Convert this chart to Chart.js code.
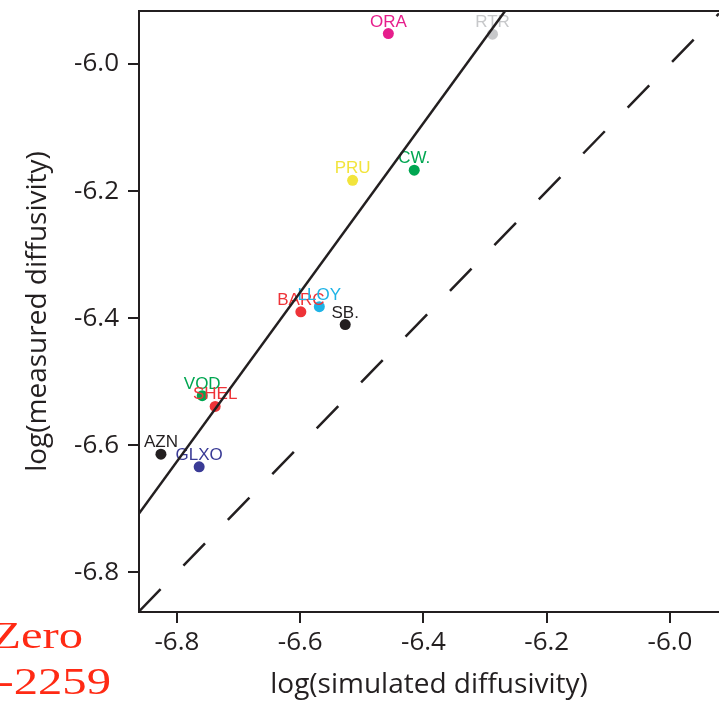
<!DOCTYPE html>
<html>
<head>
<meta charset="utf-8">
<script src="https://cdn.jsdelivr.net/npm/chart.js@4/dist/chart.umd.min.js"></script>
<style>
  html, body { margin: 0; padding: 0; background: #ffffff; overflow: hidden; }
  #wrap { position: relative; width: 719px; height: 702px; }
</style>
</head>
<body>
<div id="wrap"><canvas id="c" width="719" height="702"></canvas></div>
<script>
// ---- data ----
const companies = ['ORA', 'RTR', 'PRU', 'CW.', 'BARC', 'LLOY', 'SB.', 'VOD', 'SHEL', 'AZN', 'GLXO'];
const simulated = [-6.457, -6.288, -6.515, -6.415, -6.599, -6.569, -6.527, -6.759, -6.738, -6.826, -6.764];
const measured  = [-5.952, -5.953, -6.183, -6.167, -6.390, -6.382, -6.410, -6.522, -6.539, -6.614, -6.634];
const colors    = ['#e61e8c', '#c7c8ca', '#f2e43c', '#00a651', '#ee3338', '#1fb3e6', '#231f20', '#00a651', '#ee3338', '#231f20', '#3a3b96'];

const fitX = [-6.8616, -6.2676];
const fitY = [-6.7076, -5.9165];
const diagX = [-6.8616, -5.9205];
const diagY = [-6.8616, -5.9205];

const xTicks = [-6.8, -6.6, -6.4, -6.2, -6.0];
const yTicks = [-6.8, -6.6, -6.4, -6.2, -6.0];
const xRange = [-6.8616, -5.9205];
const yRange = [-6.8625, -5.9165];

const xTitle = 'log(simulated diffusivity)';
const yTitle = 'log(measured diffusivity)';
const sideTexts = ['Zero', '-2259'];

// ---- chart ----
const INK = '#231f20';
const pts = companies.map((c, i) => ({ x: simulated[i], y: measured[i] }));

const labelPlugin = {
  id: 'pointLabels',
  afterDatasetDraw(chart, args) {
    if (args.index !== 0) return;
    const ctx = chart.ctx;
    const meta = chart.getDatasetMeta(0);
    ctx.save();
    ctx.font = '17px "Liberation Sans", Arial, sans-serif';
    ctx.textAlign = 'center';
    ctx.textBaseline = 'alphabetic';
    meta.data.forEach((el, i) => {
      ctx.fillStyle = colors[i];
      ctx.fillText(companies[i], el.x, el.y - 7);
    });
    ctx.restore();
  }
};

const framePlugin = {
  id: 'frameTop',
  afterDraw(chart) {
    const ctx = chart.ctx, a = chart.chartArea;
    ctx.save();
    ctx.strokeStyle = INK;
    ctx.lineWidth = 2;
    ctx.beginPath();
    ctx.moveTo(a.left - 1, a.top);
    ctx.lineTo(a.right, a.top);
    ctx.stroke();
    ctx.restore();
    // side text fragments (partly outside the canvas in the reference)
    [[sideTexts[0], 83, 648], [sideTexts[1], 111, 694]].forEach(([t, x, y]) => {
      ctx.save();
      ctx.fillStyle = '#ff2a14';
      ctx.font = '38px "Liberation Serif", "Times New Roman", serif';
      ctx.textAlign = 'right';
      ctx.textBaseline = 'alphabetic';
      ctx.translate(x, y);
      ctx.scale(1.28, 1);
      ctx.fillText(t, 0, 0);
      ctx.restore();
    });
  }
};

const tickFont = { family: '"Open Sans", "Noto Sans", sans-serif', size: 26 };
const titleFont = { family: '"Open Sans", "Noto Sans", sans-serif', size: 28 };

new Chart(document.getElementById('c'), {
  data: {
    datasets: [
      {
        type: 'scatter',
        data: pts,
        pointRadius: 5.5,
        pointHoverRadius: 5.5,
        pointBorderWidth: 0,
        pointBackgroundColor: colors,
        pointBorderColor: colors,
        order: 2
      },
      {
        type: 'line',
        data: fitX.map((x, i) => ({ x, y: fitY[i] })),
        borderColor: INK,
        borderWidth: 2.5,
        pointRadius: 0,
        fill: false,
        order: 1
      },
      {
        type: 'line',
        data: diagX.map((x, i) => ({ x, y: diagY[i] })),
        borderColor: INK,
        borderWidth: 2.5,
        borderDash: [31, 32.8],
        pointRadius: 0,
        fill: false,
        order: 1
      }
    ]
  },
  options: {
    responsive: false,
    animation: false,
    devicePixelRatio: 1,
    layout: { autoPadding: false, padding: { top: 11, right: 0, bottom: 0, left: 0 } },
    plugins: { legend: { display: false }, tooltip: { enabled: false } },
    scales: {
      x: {
        type: 'linear',
        min: xRange[0],
        max: xRange[1],
        afterFit(s) { s.height = 90; s.paddingLeft = 0; s.paddingRight = 0; },
        afterBuildTicks(s) { s.ticks = xTicks.map(v => ({ value: v })); },
        grid: { display: true, drawOnChartArea: false, drawTicks: true, tickLength: 11, color: INK, lineWidth: 2 },
        border: { display: true, color: INK, width: 2 },
        ticks: { color: INK, font: tickFont, padding: 4, maxRotation: 0, autoSkip: false,
                 callback: v => v.toFixed(1) },
        title: { display: true, text: xTitle, color: INK, font: titleFont, padding: { top: 0, bottom: 0 } }
      },
      y: {
        type: 'linear',
        min: yRange[0],
        max: yRange[1],
        afterFit(s) { s.width = 139; s.paddingTop = 0; s.paddingBottom = 0; },
        afterBuildTicks(s) { s.ticks = yTicks.map(v => ({ value: v })); },
        grid: { display: true, drawOnChartArea: false, drawTicks: true, tickLength: 11, color: INK, lineWidth: 2 },
        border: { display: true, color: INK, width: 2 },
        ticks: { color: INK, font: tickFont, padding: 9, autoSkip: false,
                 callback: v => v.toFixed(1) },
        title: { display: true, text: yTitle, color: INK, font: titleFont, padding: { top: 21, bottom: 0 } }
      }
    }
  },
  plugins: [labelPlugin, framePlugin]
});
</script>
</body>
</html>
